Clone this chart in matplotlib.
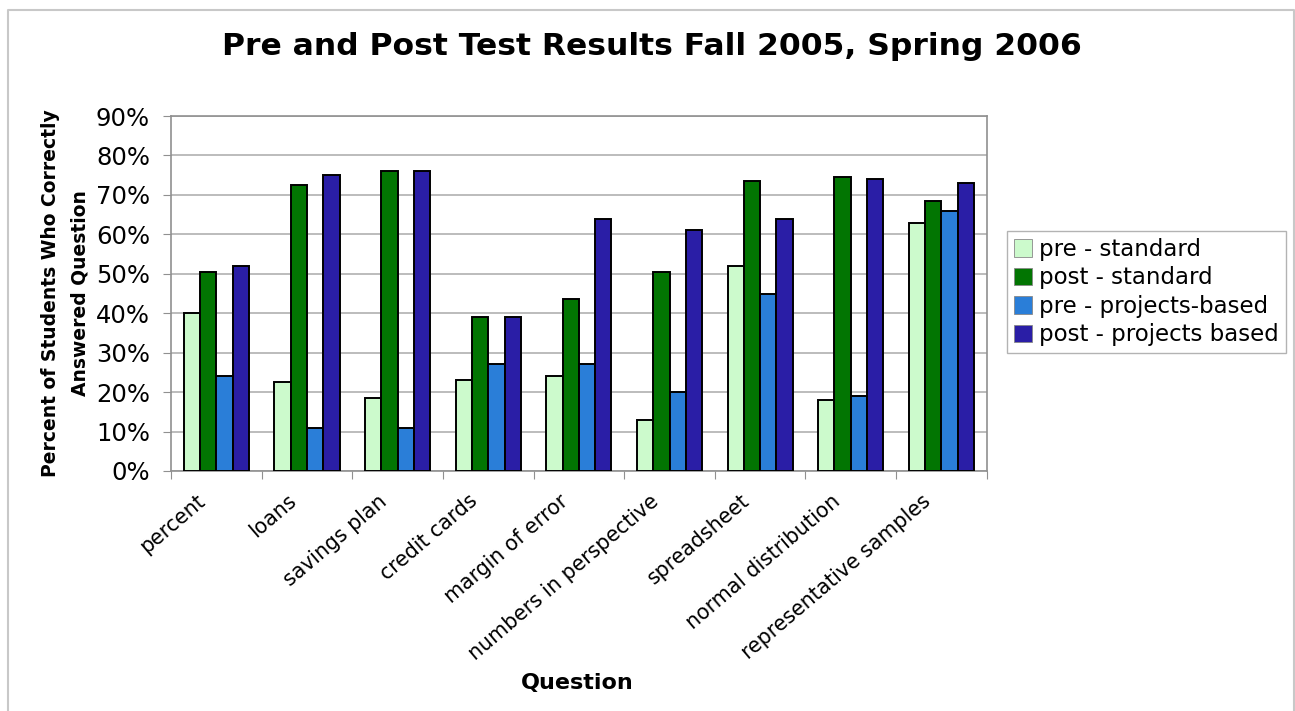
import matplotlib.pyplot as plt
import matplotlib.transforms as mtransforms
import numpy as np
from matplotlib.lines import Line2D

# Data
questions = ['percent', 'loans', 'savings plan', 'credit cards', 'margin of error',
             'numbers in perspective', 'spreadsheet', 'normal distribution',
             'representative samples']
series_names = ['pre - standard', 'post - standard', 'pre - projects-based',
                'post - projects based']
pre_standard = [40, 22.5, 18.5, 23, 24, 13, 52, 18, 63]
post_standard = [50.5, 72.5, 76, 39, 43.5, 50.5, 73.5, 74.5, 68.5]
pre_projects = [24, 11, 11, 27, 27, 20, 45, 19, 66]
post_projects = [52, 75, 76, 39, 64, 61, 64, 74, 73]
colors = ['#ccfacc', '#027502', '#2a7ed8', '#2a1ea6']

fig = plt.figure(figsize=(12.95, 7.11), dpi=100)
ax = fig.add_axes([0.132, 0.3376, 0.63, 0.4992])

# outer frame of the chart (open at the bottom, like the cropped original)
fl, ft, fr = 7.5 / 1295, 1 - 9.5 / 711, 1293.5 / 1295
fig.add_artist(Line2D([fl, fl, fr, fr], [-0.01, ft, ft, -0.01],
                      transform=fig.transFigure, color='#c8c8c8', linewidth=1.5))

x = np.arange(len(questions))
w = 0.18
all_series = [pre_standard, post_standard, pre_projects, post_projects]
for i, vals in enumerate(all_series):
    ax.bar(x + (i - 1.5) * w, vals, w, color=colors[i], edgecolor='black',
           linewidth=1.4, label=series_names[i], zorder=3)

ax.set_xlim(-0.5, len(questions) - 0.5)
ax.set_ylim(0, 90)
ax.set_yticks(np.arange(0, 91, 10))
ax.set_yticklabels([f'{v}%' for v in range(0, 91, 10)], fontsize=17.5)
ax.yaxis.grid(True, color='#b0b0b0', linewidth=1.2, zorder=0)
ax.tick_params(axis='y', length=6, color='#909090', pad=9)

# category ticks sit at boundaries, labels at centres
ax.set_xticks(np.arange(-0.5, len(questions)), minor=False)
ax.set_xticklabels([])
ax.set_xticks(x, minor=True)
ax.set_xticklabels(questions, minor=True, rotation=40.5, ha='right',
                   rotation_mode='anchor', fontsize=14.8)
ax.tick_params(axis='x', which='major', length=6, color='#909090')
ax.tick_params(axis='x', which='minor', length=0, pad=10)
shift = mtransforms.ScaledTranslation(-0.20, -0.06, fig.dpi_scale_trans)
for lbl in ax.get_xticklabels(minor=True):
    lbl.set_transform(lbl.get_transform() + shift)

for s in ax.spines.values():
    s.set_color('#909090')
    s.set_linewidth(1.2)

ax.set_ylabel('Percent of Students Who Correctly\nAnswered Question', fontsize=13.5,
              fontweight='bold', labelpad=5, linespacing=1.65)
fig.text(0.4456, 0.039, 'Question', fontsize=16, fontweight='bold', ha='center',
         va='center')
fig.text(0.503, 0.934, 'Pre and Post Test Results Fall 2005, Spring 2006',
         fontsize=22.6, fontweight='bold', ha='center', va='center')

leg = ax.legend(loc='center left', bbox_to_anchor=(0.7776, 0.589),
                bbox_transform=fig.transFigure, fontsize=16.5, frameon=True,
                fancybox=False, edgecolor='#a0a0a0', handlelength=0.8,
                handleheight=0.8, handletextpad=0.3, labelspacing=0.24,
                borderpad=0.3, borderaxespad=0)
for h in leg.legend_handles:
    h.set_edgecolor('#888888')
    h.set_linewidth(0.6)

fig.savefig('out.png', dpi=100)
